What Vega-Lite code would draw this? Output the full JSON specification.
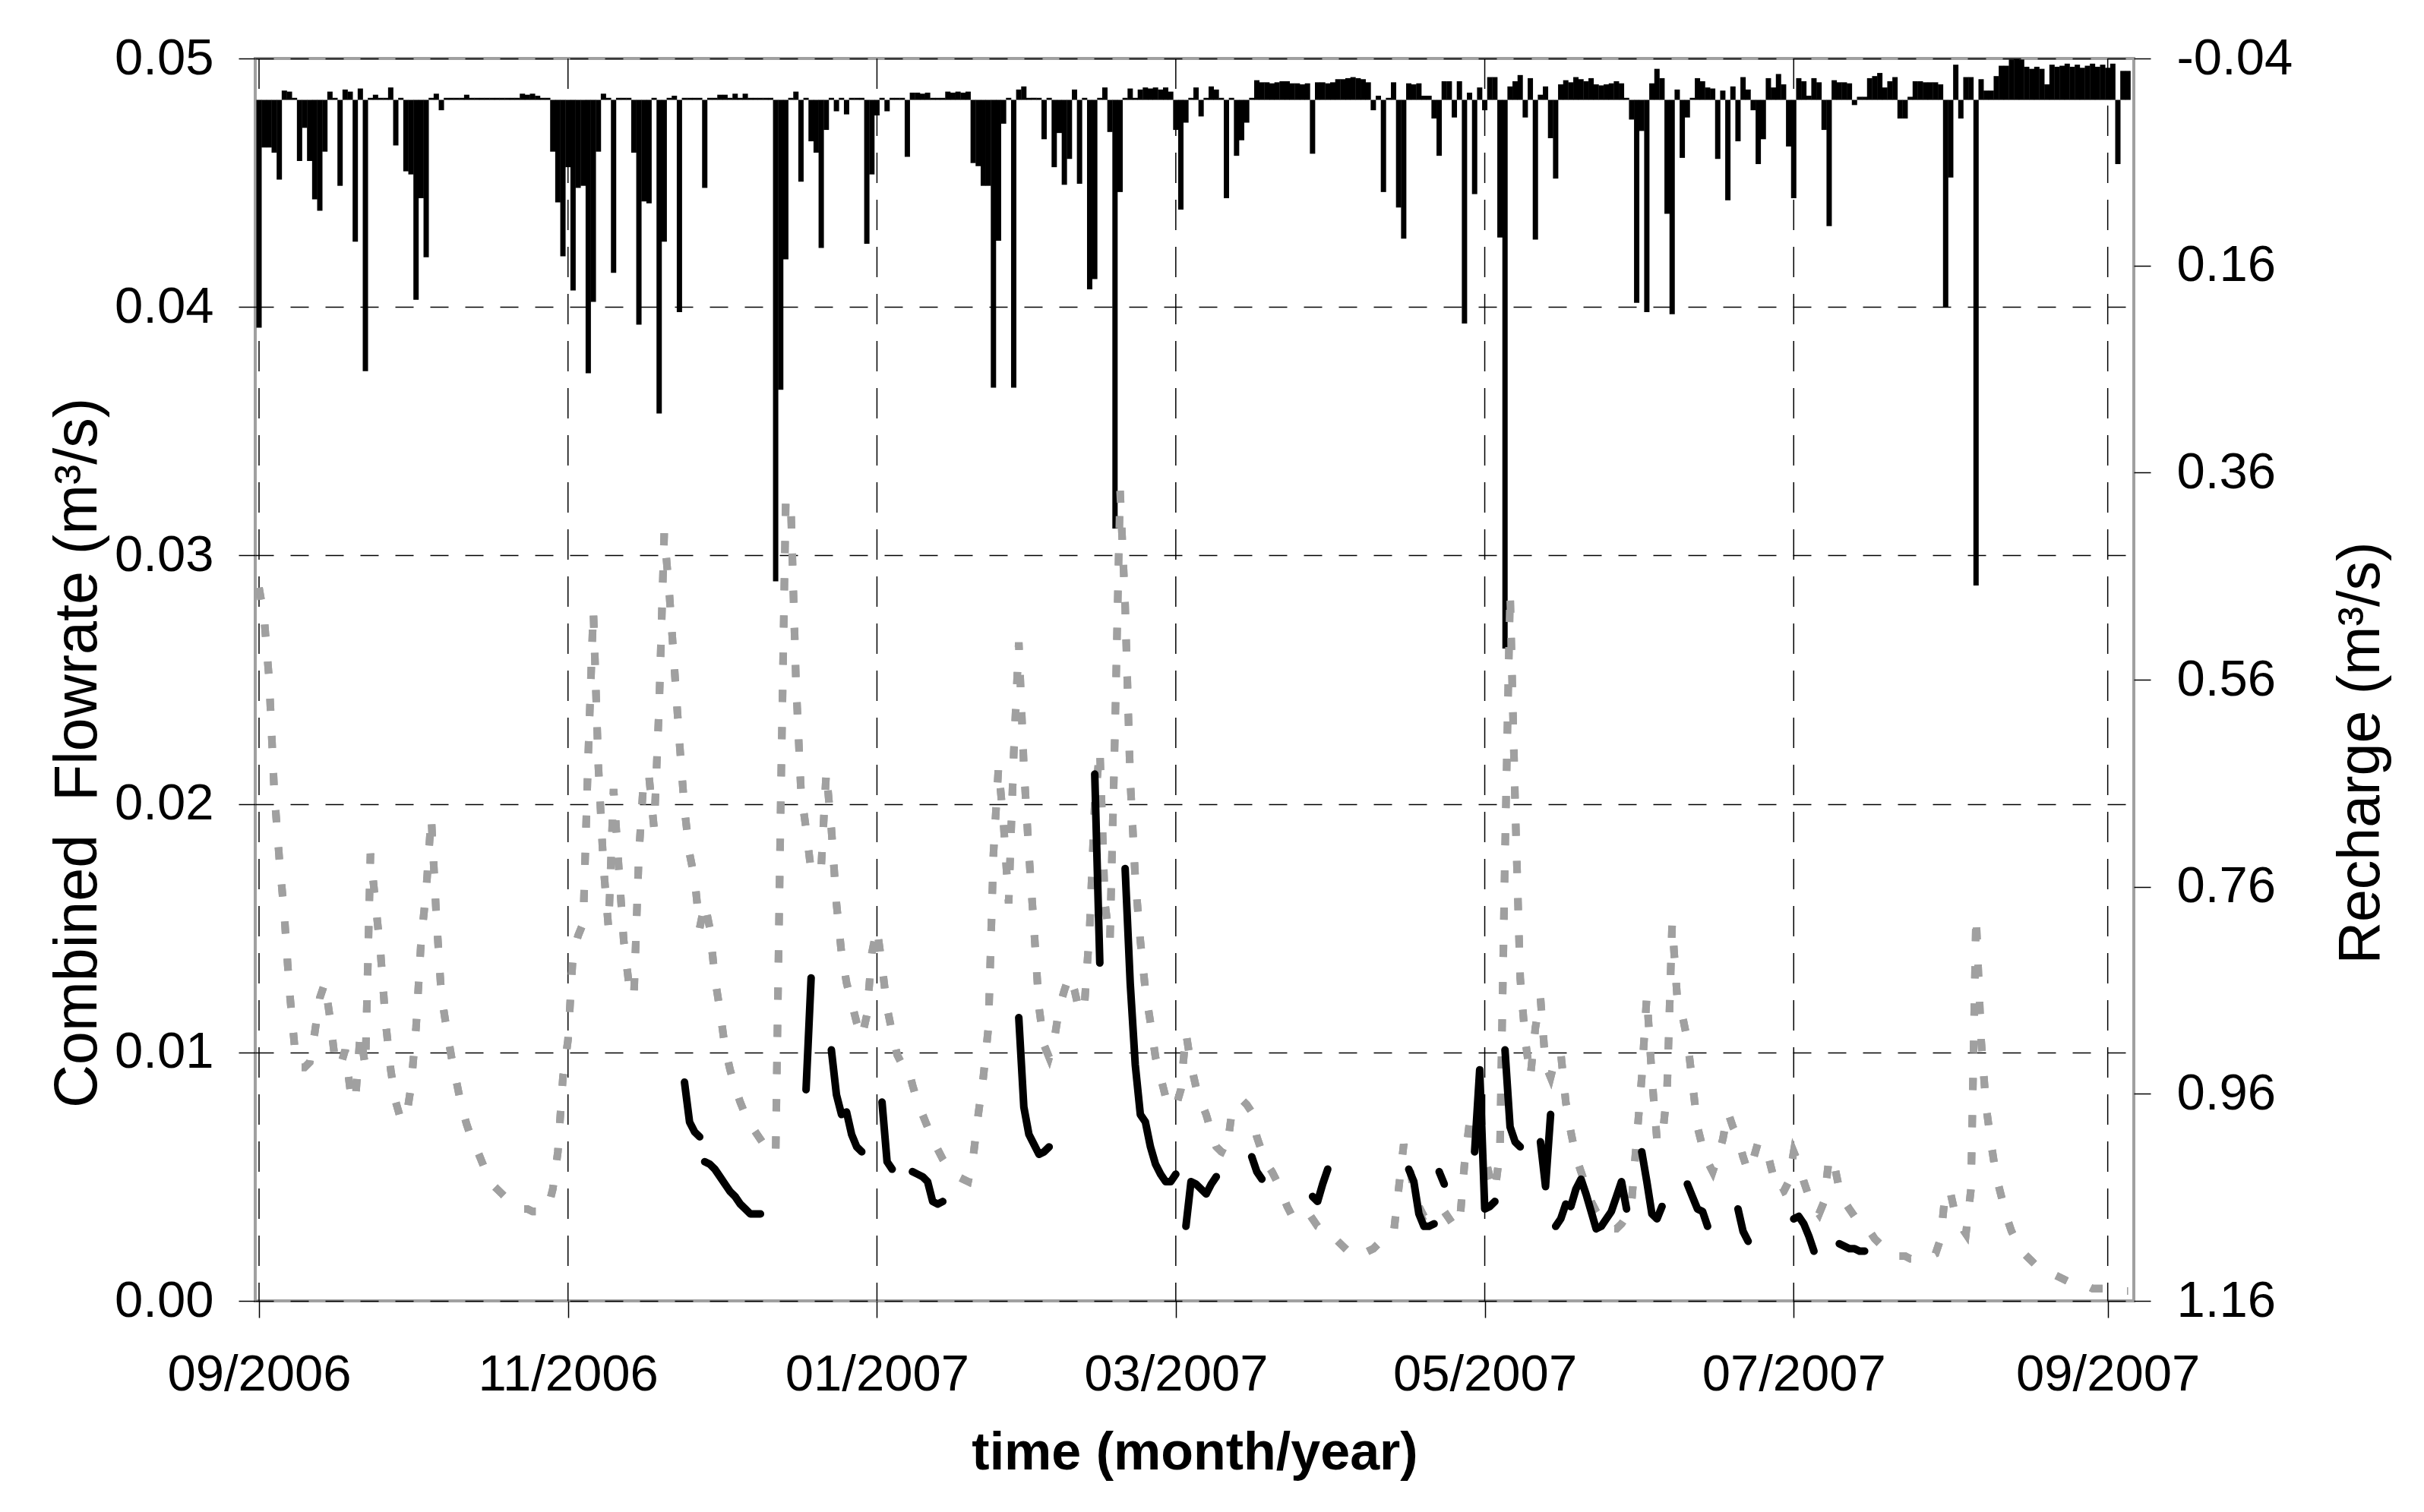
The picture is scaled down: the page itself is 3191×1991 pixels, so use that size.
{
"$schema":"https://vega.github.io/schema/vega-lite/v6.json",
"width":2473,"height":1636,"autosize":"none",
"padding":{"left":336,"top":77,"right":382,"bottom":278},
"background":"white",
"config":{"font":"Liberation Sans","view":{"stroke":"#a0a0a0","strokeWidth":4},
"axis":{"labelFont":"Liberation Sans","titleFont":"Liberation Sans","labelColor":"black","titleColor":"black","tickColor":"black","tickWidth":1.5,"domain":false,"labelLimit":1000,"titleLimit":3000,"labelFontSize":67,"titleFontWeight":"normal"}},
"datasets":{
"months":[{"t":"2006-09-01"},{"t":"2006-11-01"},{"t":"2007-01-01"},{"t":"2007-03-01"},{"t":"2007-05-01"},{"t":"2007-07-01"},{"t":"2007-09-01"}],
"daily":[
{"t":"2006-09-01","r":0.22,"s":0.0287},{"t":"2006-09-02","r":0.046,"s":0.0275},{"t":"2006-09-03","r":0.046,"s":0.025},{"t":"2006-09-04","r":0.051,"s":0.0205},{"t":"2006-09-05","r":0.077,"s":0.0178},{"t":"2006-09-06","r":-0.009,"s":0.0155},{"t":"2006-09-07","r":-0.008,"s":0.0125},{"t":"2006-09-08","r":-0.002,"s":0.0103},{"t":"2006-09-09","r":0.059,"s":0.0094},{"t":"2006-09-10","r":0.027,"s":0.0094},
{"t":"2006-09-11","r":0.059,"s":0.0096},{"t":"2006-09-12","r":0.096,"s":0.0108},{"t":"2006-09-13","r":0.107,"s":0.0122},{"t":"2006-09-14","r":0.05,"s":0.0128},{"t":"2006-09-15","r":-0.008,"s":0.0114},{"t":"2006-09-16","r":-0.002,"s":0.0097},{"t":"2006-09-17","r":0.083,"s":0.0094},{"t":"2006-09-18","r":-0.01,"s":0.0101},{"t":"2006-09-19","r":-0.008,"s":0.0085},{"t":"2006-09-20","r":0.137,"s":0.008},
{"t":"2006-09-21","r":-0.011,"s":0.0108},{"t":"2006-09-22","r":0.262,"s":0.0094},{"t":"2006-09-23","r":-0.002,"s":0.018},{"t":"2006-09-24","r":-0.005,"s":0.016},{"t":"2006-09-25","r":-0.002,"s":0.014},{"t":"2006-09-26","r":-0.002,"s":0.0112},{"t":"2006-09-27","r":-0.012,"s":0.0093},{"t":"2006-09-28","r":0.044,"s":0.008},{"t":"2006-09-29","r":-0.002,"s":0.0073},{"t":"2006-09-30","r":0.069,"s":0.0073},
{"t":"2006-10-01","r":0.072,"s":0.0086},{"t":"2006-10-02","r":0.193,"s":0.011},{"t":"2006-10-03","r":0.095,"s":0.0145},{"t":"2006-10-04","r":0.152,"s":0.0165},{"t":"2006-10-05","r":-0.002,"s":0.0195},{"t":"2006-10-06","r":-0.006,"s":0.0155},{"t":"2006-10-07","r":0.01,"s":0.0123},{"t":"2006-10-08","r":-0.002,"s":0.011},{"t":"2006-10-09","r":-0.002,"s":0.0098},{"t":"2006-10-10","r":-0.002,"s":0.0088},
{"t":"2006-10-11","r":-0.002,"s":0.0078},{"t":"2006-10-12","r":-0.005,"s":0.0071},{"t":"2006-10-13","r":-0.002,"s":0.0065},{"t":"2006-10-14","r":-0.002,"s":0.0061},{"t":"2006-10-15","r":-0.002,"s":0.0056},{"t":"2006-10-16","r":-0.002,"s":0.0051},{"t":"2006-10-17","r":-0.002,"s":0.0047},{"t":"2006-10-18","r":-0.002,"s":0.0045},{"t":"2006-10-19","r":-0.002,"s":0.0043},{"t":"2006-10-20","r":-0.002,"s":0.0041},
{"t":"2006-10-21","r":-0.002,"s":0.0039},{"t":"2006-10-22","r":-0.002,"s":0.0038},{"t":"2006-10-23","r":-0.006,"s":0.0037},{"t":"2006-10-24","r":-0.005,"s":0.0037},{"t":"2006-10-25","r":-0.006,"s":0.0036},{"t":"2006-10-26","r":-0.004,"s":0.0036},{"t":"2006-10-27","r":-0.002,"s":0.0036},{"t":"2006-10-28","r":-0.002,"s":0.0037},{"t":"2006-10-29","r":0.05,"s":0.0045},{"t":"2006-10-30","r":0.099,"s":0.006},
{"t":"2006-10-31","r":0.151,"s":0.009},{"t":"2006-11-01","r":0.065,"s":0.0105},{"t":"2006-11-02","r":0.184,"s":0.014},{"t":"2006-11-03","r":0.085,"s":0.0147},{"t":"2006-11-04","r":0.083,"s":0.0152},{"t":"2006-11-05","r":0.264,"s":0.022},{"t":"2006-11-06","r":0.195,"s":0.0278},{"t":"2006-11-07","r":0.05,"s":0.0215},{"t":"2006-11-08","r":-0.006,"s":0.0175},{"t":"2006-11-09","r":-0.002,"s":0.015},
{"t":"2006-11-10","r":0.167,"s":0.0206},{"t":"2006-11-11","r":-0.002,"s":0.0175},{"t":"2006-11-12","r":-0.002,"s":0.0145},{"t":"2006-11-13","r":-0.002,"s":0.0128},{"t":"2006-11-14","r":0.051,"s":0.0122},{"t":"2006-11-15","r":0.217,"s":0.018},{"t":"2006-11-16","r":0.098,"s":0.0212},{"t":"2006-11-17","r":0.1,"s":0.0211},{"t":"2006-11-18","r":-0.002,"s":0.019},{"t":"2006-11-19","r":0.303,"s":0.024},
{"t":"2006-11-20","r":0.137,"s":0.0309},{"t":"2006-11-21","r":-0.002,"s":0.0285},{"t":"2006-11-22","r":-0.004,"s":0.0255},{"t":"2006-11-23","r":0.205,"s":0.0225},{"t":"2006-11-24","r":-0.002,"s":0.0198},{"t":"2006-11-25","r":-0.002,"s":0.018},{"t":"2006-11-26","r":-0.002,"s":0.017},{"t":"2006-11-27","r":-0.002,"s":0.015},{"t":"2006-11-28","r":0.085,"s":0.016},{"t":"2006-11-29","r":-0.002,"s":0.015},
{"t":"2006-11-30","r":-0.002,"s":0.013},{"t":"2006-12-01","r":-0.005,"s":0.0117},{"t":"2006-12-02","r":-0.005,"s":0.0102},{"t":"2006-12-03","r":-0.002,"s":0.0093},{"t":"2006-12-04","r":-0.006,"s":0.0086},{"t":"2006-12-05","r":-0.002,"s":0.008},{"t":"2006-12-06","r":-0.006,"s":0.0075},{"t":"2006-12-07","r":-0.002,"s":0.0071},{"t":"2006-12-08","r":-0.002,"s":0.0068},{"t":"2006-12-09","r":-0.002,"s":0.0065},
{"t":"2006-12-10","r":-0.002,"s":0.0062},{"t":"2006-12-11","r":-0.002,"s":0.006},{"t":"2006-12-12","r":0.465,"s":0.0059},{"t":"2006-12-13","r":0.28,"s":0.02},{"t":"2006-12-14","r":0.154,"s":0.0323},{"t":"2006-12-15","r":-0.002,"s":0.032},{"t":"2006-12-16","r":-0.008,"s":0.025},{"t":"2006-12-17","r":0.079,"s":0.0205},{"t":"2006-12-18","r":-0.002,"s":0.019},{"t":"2006-12-19","r":0.04,"s":0.0173},
{"t":"2006-12-20","r":0.051,"s":0.0172},{"t":"2006-12-21","r":0.143,"s":0.0175},{"t":"2006-12-22","r":0.029,"s":0.0213},{"t":"2006-12-23","r":-0.002,"s":0.019},{"t":"2006-12-24","r":0.011,"s":0.016},{"t":"2006-12-25","r":-0.002,"s":0.014},{"t":"2006-12-26","r":0.014,"s":0.0128},{"t":"2006-12-27","r":-0.002,"s":0.012},{"t":"2006-12-28","r":-0.002,"s":0.0112},{"t":"2006-12-29","r":-0.002,"s":0.0106},
{"t":"2006-12-30","r":0.139,"s":0.0115},{"t":"2006-12-31","r":0.072,"s":0.014},{"t":"2007-01-01","r":0.015,"s":0.015},{"t":"2007-01-02","r":-0.002,"s":0.0135},{"t":"2007-01-03","r":0.011,"s":0.0118},{"t":"2007-01-04","r":-0.002,"s":0.0108},{"t":"2007-01-05","r":-0.002,"s":0.0099},{"t":"2007-01-06","r":-0.002,"s":0.0095},{"t":"2007-01-07","r":0.055,"s":0.0095},{"t":"2007-01-08","r":-0.007,"s":0.0087},
{"t":"2007-01-09","r":-0.007,"s":0.008},{"t":"2007-01-10","r":-0.006,"s":0.0075},{"t":"2007-01-11","r":-0.007,"s":0.007},{"t":"2007-01-12","r":-0.002,"s":0.0065},{"t":"2007-01-13","r":-0.002,"s":0.0061},{"t":"2007-01-14","r":-0.002,"s":0.0057},{"t":"2007-01-15","r":-0.008,"s":0.0054},{"t":"2007-01-16","r":-0.007,"s":0.0052},{"t":"2007-01-17","r":-0.008,"s":0.005},{"t":"2007-01-18","r":-0.007,"s":0.0049},
{"t":"2007-01-19","r":-0.008,"s":0.0048},{"t":"2007-01-20","r":0.061,"s":0.0058},{"t":"2007-01-21","r":0.064,"s":0.0075},{"t":"2007-01-22","r":0.083,"s":0.009},{"t":"2007-01-23","r":0.083,"s":0.011},{"t":"2007-01-24","r":0.278,"s":0.018},{"t":"2007-01-25","r":0.136,"s":0.0215},{"t":"2007-01-26","r":0.023,"s":0.0192},{"t":"2007-01-27","r":-0.002,"s":0.016},{"t":"2007-01-28","r":0.278,"s":0.022},
{"t":"2007-01-29","r":-0.01,"s":0.0265},{"t":"2007-01-30","r":-0.013,"s":0.0215},{"t":"2007-01-31","r":-0.002,"s":0.018},{"t":"2007-02-01","r":-0.002,"s":0.015},{"t":"2007-02-02","r":-0.002,"s":0.0118},{"t":"2007-02-03","r":0.038,"s":0.0103},{"t":"2007-02-04","r":-0.002,"s":0.0098},{"t":"2007-02-05","r":0.065,"s":0.0105},{"t":"2007-02-06","r":0.032,"s":0.0118},{"t":"2007-02-07","r":0.082,"s":0.0125},
{"t":"2007-02-08","r":0.057,"s":0.0131},{"t":"2007-02-09","r":-0.01,"s":0.0125},{"t":"2007-02-10","r":0.081,"s":0.0116},{"t":"2007-02-11","r":-0.002,"s":0.012},{"t":"2007-02-12","r":0.183,"s":0.015},{"t":"2007-02-13","r":0.173,"s":0.02},{"t":"2007-02-14","r":-0.002,"s":0.0222},{"t":"2007-02-15","r":-0.012,"s":0.016},{"t":"2007-02-16","r":0.031,"s":0.0145},{"t":"2007-02-17","r":0.414,"s":0.023},
{"t":"2007-02-18","r":0.089,"s":0.0326},{"t":"2007-02-19","r":-0.002,"s":0.028},{"t":"2007-02-20","r":-0.011,"s":0.021},{"t":"2007-02-21","r":-0.002,"s":0.017},{"t":"2007-02-22","r":-0.01,"s":0.0145},{"t":"2007-02-23","r":-0.012,"s":0.0125},{"t":"2007-02-24","r":-0.011,"s":0.0112},{"t":"2007-02-25","r":-0.012,"s":0.0098},{"t":"2007-02-26","r":-0.01,"s":0.009},{"t":"2007-02-27","r":-0.012,"s":0.0082},
{"t":"2007-02-28","r":-0.008,"s":0.0078},{"t":"2007-03-01","r":0.029,"s":0.0078},{"t":"2007-03-02","r":0.106,"s":0.0085},{"t":"2007-03-03","r":0.022,"s":0.0108},{"t":"2007-03-04","r":-0.002,"s":0.0095},{"t":"2007-03-05","r":-0.012,"s":0.0086},{"t":"2007-03-06","r":0.016,"s":0.008},{"t":"2007-03-07","r":-0.002,"s":0.0075},{"t":"2007-03-08","r":-0.013,"s":0.0068},{"t":"2007-03-09","r":-0.01,"s":0.0062},
{"t":"2007-03-10","r":-0.002,"s":0.006},{"t":"2007-03-11","r":0.095,"s":0.0059},{"t":"2007-03-12","r":-0.002,"s":0.0075},{"t":"2007-03-13","r":0.054,"s":0.0079},{"t":"2007-03-14","r":0.039,"s":0.0081},{"t":"2007-03-15","r":0.022,"s":0.0079},{"t":"2007-03-16","r":-0.002,"s":0.0076},{"t":"2007-03-17","r":-0.019,"s":0.0066},{"t":"2007-03-18","r":-0.017,"s":0.006},{"t":"2007-03-19","r":-0.017,"s":0.0055},
{"t":"2007-03-20","r":-0.016,"s":0.0052},{"t":"2007-03-21","r":-0.017,"s":0.0048},{"t":"2007-03-22","r":-0.018,"s":0.0043},{"t":"2007-03-23","r":-0.018,"s":0.0038},{"t":"2007-03-24","r":-0.016,"s":0.0034},{"t":"2007-03-25","r":-0.016,"s":0.0034},{"t":"2007-03-26","r":-0.015,"s":0.0035},{"t":"2007-03-27","r":-0.016,"s":0.0036},{"t":"2007-03-28","r":0.052,"s":0.0033},{"t":"2007-03-29","r":-0.017,"s":0.003},
{"t":"2007-03-30","r":-0.017,"s":0.0029},{"t":"2007-03-31","r":-0.016,"s":0.0028},{"t":"2007-04-01","r":-0.017,"s":0.0026},{"t":"2007-04-02","r":-0.02,"s":0.0024},{"t":"2007-04-03","r":-0.02,"s":0.0022},{"t":"2007-04-04","r":-0.021,"s":0.002},{"t":"2007-04-05","r":-0.022,"s":0.0018},{"t":"2007-04-06","r":-0.021,"s":0.0018},{"t":"2007-04-07","r":-0.02,"s":0.0019},{"t":"2007-04-08","r":-0.017,"s":0.002},
{"t":"2007-04-09","r":0.01,"s":0.0021},{"t":"2007-04-10","r":-0.004,"s":0.0023},{"t":"2007-04-11","r":0.089,"s":0.0024},{"t":"2007-04-12","r":-0.002,"s":0.0025},{"t":"2007-04-13","r":-0.017,"s":0.0027},{"t":"2007-04-14","r":0.104,"s":0.0045},{"t":"2007-04-15","r":0.134,"s":0.0063},{"t":"2007-04-16","r":-0.016,"s":0.0055},{"t":"2007-04-17","r":-0.015,"s":0.0045},{"t":"2007-04-18","r":-0.016,"s":0.0038},
{"t":"2007-04-19","r":-0.004,"s":0.0034},{"t":"2007-04-20","r":-0.004,"s":0.0035},{"t":"2007-04-21","r":0.018,"s":0.0037},{"t":"2007-04-22","r":0.054,"s":0.0038},{"t":"2007-04-23","r":-0.018,"s":0.0036},{"t":"2007-04-24","r":-0.018,"s":0.0033},{"t":"2007-04-25","r":0.017,"s":0.003},{"t":"2007-04-26","r":-0.018,"s":0.003},{"t":"2007-04-27","r":0.216,"s":0.0055},{"t":"2007-04-28","r":-0.007,"s":0.0072},
{"t":"2007-04-29","r":0.091,"s":0.0074},{"t":"2007-04-30","r":-0.012,"s":0.0065},{"t":"2007-05-01","r":0.01,"s":0.0058},{"t":"2007-05-02","r":-0.022,"s":0.005},{"t":"2007-05-03","r":-0.022,"s":0.0044},{"t":"2007-05-04","r":0.133,"s":0.006},{"t":"2007-05-05","r":0.53,"s":0.018},{"t":"2007-05-06","r":-0.013,"s":0.0285},{"t":"2007-05-07","r":-0.018,"s":0.02},{"t":"2007-05-08","r":-0.024,"s":0.013},
{"t":"2007-05-09","r":0.017,"s":0.0105},{"t":"2007-05-10","r":-0.021,"s":0.009},{"t":"2007-05-11","r":0.135,"s":0.011},{"t":"2007-05-12","r":-0.005,"s":0.0122},{"t":"2007-05-13","r":-0.013,"s":0.0095},{"t":"2007-05-14","r":0.037,"s":0.009},{"t":"2007-05-15","r":0.076,"s":0.0098},{"t":"2007-05-16","r":-0.015,"s":0.01},{"t":"2007-05-17","r":-0.019,"s":0.008},{"t":"2007-05-18","r":-0.017,"s":0.0068},
{"t":"2007-05-19","r":-0.022,"s":0.0058},{"t":"2007-05-20","r":-0.02,"s":0.0052},{"t":"2007-05-21","r":-0.018,"s":0.0046},{"t":"2007-05-22","r":-0.021,"s":0.004},{"t":"2007-05-23","r":-0.015,"s":0.0036},{"t":"2007-05-24","r":-0.014,"s":0.0033},{"t":"2007-05-25","r":-0.015,"s":0.0031},{"t":"2007-05-26","r":-0.016,"s":0.0029},{"t":"2007-05-27","r":-0.018,"s":0.0029},{"t":"2007-05-28","r":-0.016,"s":0.0031},
{"t":"2007-05-29","r":-0.002,"s":0.0034},{"t":"2007-05-30","r":0.019,"s":0.004},{"t":"2007-05-31","r":0.196,"s":0.0065},{"t":"2007-06-01","r":0.03,"s":0.009},{"t":"2007-06-02","r":0.205,"s":0.0123},{"t":"2007-06-03","r":-0.016,"s":0.009},{"t":"2007-06-04","r":-0.03,"s":0.0065},{"t":"2007-06-05","r":-0.021,"s":0.0064},{"t":"2007-06-06","r":0.11,"s":0.0085},{"t":"2007-06-07","r":0.207,"s":0.0152},
{"t":"2007-06-08","r":-0.01,"s":0.0122},{"t":"2007-06-09","r":0.056,"s":0.0115},{"t":"2007-06-10","r":0.017,"s":0.0105},{"t":"2007-06-11","r":-0.002,"s":0.0088},{"t":"2007-06-12","r":-0.021,"s":0.007},{"t":"2007-06-13","r":-0.018,"s":0.0062},{"t":"2007-06-14","r":-0.012,"s":0.0056},{"t":"2007-06-15","r":-0.011,"s":0.0052},{"t":"2007-06-16","r":0.057,"s":0.0058},{"t":"2007-06-17","r":-0.009,"s":0.0065},
{"t":"2007-06-18","r":0.097,"s":0.0076},{"t":"2007-06-19","r":-0.013,"s":0.007},{"t":"2007-06-20","r":0.04,"s":0.0066},{"t":"2007-06-21","r":-0.022,"s":0.0058},{"t":"2007-06-22","r":-0.01,"s":0.0052},{"t":"2007-06-23","r":0.01,"s":0.0057},{"t":"2007-06-24","r":0.062,"s":0.0064},{"t":"2007-06-25","r":0.038,"s":0.0062},{"t":"2007-06-26","r":-0.021,"s":0.0058},{"t":"2007-06-27","r":-0.012,"s":0.005},
{"t":"2007-06-28","r":-0.025,"s":0.0043},{"t":"2007-06-29","r":-0.015,"s":0.0044},{"t":"2007-06-30","r":0.045,"s":0.0048},{"t":"2007-07-01","r":0.095,"s":0.006},{"t":"2007-07-02","r":-0.021,"s":0.0055},{"t":"2007-07-03","r":-0.018,"s":0.0048},{"t":"2007-07-04","r":-0.004,"s":0.0042},{"t":"2007-07-05","r":-0.021,"s":0.0038},{"t":"2007-07-06","r":-0.017,"s":0.0035},{"t":"2007-07-07","r":0.029,"s":0.004},
{"t":"2007-07-08","r":0.122,"s":0.0058},{"t":"2007-07-09","r":-0.019,"s":0.0055},{"t":"2007-07-10","r":-0.017,"s":0.0045},{"t":"2007-07-11","r":-0.017,"s":0.004},{"t":"2007-07-12","r":-0.016,"s":0.0037},{"t":"2007-07-13","r":0.005,"s":0.0034},{"t":"2007-07-14","r":-0.003,"s":0.0032},{"t":"2007-07-15","r":-0.003,"s":0.003},{"t":"2007-07-16","r":-0.021,"s":0.0028},{"t":"2007-07-17","r":-0.023,"s":0.0025},
{"t":"2007-07-18","r":-0.026,"s":0.0023},{"t":"2007-07-19","r":-0.012,"s":0.0021},{"t":"2007-07-20","r":-0.018,"s":0.0019},{"t":"2007-07-21","r":-0.022,"s":0.0018},{"t":"2007-07-22","r":0.018,"s":0.0018},{"t":"2007-07-23","r":0.018,"s":0.0018},{"t":"2007-07-24","r":-0.003,"s":0.0017},{"t":"2007-07-25","r":-0.018,"s":0.0017},{"t":"2007-07-26","r":-0.018,"s":0.0017},{"t":"2007-07-27","r":-0.017,"s":0.0018},
{"t":"2007-07-28","r":-0.017,"s":0.0018},{"t":"2007-07-29","r":-0.017,"s":0.0019},{"t":"2007-07-30","r":-0.015,"s":0.0025},{"t":"2007-07-31","r":0.2,"s":0.0045},{"t":"2007-08-01","r":0.075,"s":0.0043},{"t":"2007-08-02","r":-0.034,"s":0.0034},{"t":"2007-08-03","r":0.018,"s":0.003},{"t":"2007-08-04","r":-0.022,"s":0.0027},{"t":"2007-08-05","r":-0.022,"s":0.0045},{"t":"2007-08-06","r":0.469,"s":0.0155},
{"t":"2007-08-07","r":-0.02,"s":0.0105},{"t":"2007-08-08","r":-0.009,"s":0.0078},{"t":"2007-08-09","r":-0.009,"s":0.0063},{"t":"2007-08-10","r":-0.023,"s":0.005},{"t":"2007-08-11","r":-0.033,"s":0.0042},{"t":"2007-08-12","r":-0.033,"s":0.0034},{"t":"2007-08-13","r":-0.039,"s":0.0028},{"t":"2007-08-14","r":-0.04,"s":0.0024},{"t":"2007-08-15","r":-0.039,"s":0.002},{"t":"2007-08-16","r":-0.032,"s":0.0018},
{"t":"2007-08-17","r":-0.03,"s":0.0016},{"t":"2007-08-18","r":-0.032,"s":0.0014},{"t":"2007-08-19","r":-0.03,"s":0.0013},{"t":"2007-08-20","r":-0.015,"s":0.0012},{"t":"2007-08-21","r":-0.034,"s":0.0011},{"t":"2007-08-22","r":-0.032,"s":0.001},{"t":"2007-08-23","r":-0.033,"s":0.0009},{"t":"2007-08-24","r":-0.035,"s":0.0008},{"t":"2007-08-25","r":-0.032,"s":0.0008},{"t":"2007-08-26","r":-0.034,"s":0.0007},
{"t":"2007-08-27","r":-0.031,"s":0.0006},{"t":"2007-08-28","r":-0.033,"s":0.0006},{"t":"2007-08-29","r":-0.035,"s":0.0005},{"t":"2007-08-30","r":-0.032,"s":0.0005},{"t":"2007-08-31","r":-0.034,"s":0.0005},{"t":"2007-09-01","r":-0.031,"s":0.0004},{"t":"2007-09-02","r":-0.035,"s":0.0004},{"t":"2007-09-03","r":0.062,"s":0.0004},{"t":"2007-09-04","r":-0.028,"s":0.0004},{"t":"2007-09-05","r":-0.028,"s":0.0004}
],
"obs":[
{"g":"A","t":"2006-11-24","q":0.0088},{"g":"A","t":"2006-11-25","q":0.0072},{"g":"A","t":"2006-11-26","q":0.0068},{"g":"A","t":"2006-11-27","q":0.0066},
{"g":"B","t":"2006-11-28","q":0.0056},{"g":"B","t":"2006-11-29","q":0.0055},{"g":"B","t":"2006-11-30","q":0.0053},{"g":"B","t":"2006-12-01","q":0.005},{"g":"B","t":"2006-12-02","q":0.0047},{"g":"B","t":"2006-12-03","q":0.0044},{"g":"B","t":"2006-12-04","q":0.0042},{"g":"B","t":"2006-12-05","q":0.0039},{"g":"B","t":"2006-12-06","q":0.0037},{"g":"B","t":"2006-12-07","q":0.0035},{"g":"B","t":"2006-12-08","q":0.0035},{"g":"B","t":"2006-12-09","q":0.0035},
{"g":"C","t":"2006-12-18","q":0.0085},{"g":"C","t":"2006-12-19","q":0.013},
{"g":"D","t":"2006-12-23","q":0.0101},{"g":"D","t":"2006-12-24","q":0.0083},{"g":"D","t":"2006-12-25","q":0.0075},{"g":"D","t":"2006-12-26","q":0.0076},{"g":"D","t":"2006-12-27","q":0.0067},{"g":"D","t":"2006-12-28","q":0.0062},{"g":"D","t":"2006-12-29","q":0.006},
{"g":"E","t":"2007-01-02","q":0.008},{"g":"E","t":"2007-01-03","q":0.0056},{"g":"E","t":"2007-01-04","q":0.0053},
{"g":"F","t":"2007-01-08","q":0.0052},{"g":"F","t":"2007-01-09","q":0.0051},{"g":"F","t":"2007-01-10","q":0.005},{"g":"F","t":"2007-01-11","q":0.0048},{"g":"F","t":"2007-01-12","q":0.004},{"g":"F","t":"2007-01-13","q":0.0039},{"g":"F","t":"2007-01-14","q":0.004},
{"g":"G","t":"2007-01-29","q":0.0114},{"g":"G","t":"2007-01-30","q":0.0078},{"g":"G","t":"2007-01-31","q":0.0067},{"g":"G","t":"2007-02-01","q":0.0063},{"g":"G","t":"2007-02-02","q":0.0059},{"g":"G","t":"2007-02-03","q":0.006},{"g":"G","t":"2007-02-04","q":0.0062},
{"g":"H","t":"2007-02-13","q":0.0212},{"g":"H","t":"2007-02-14","q":0.0136},
{"g":"I","t":"2007-02-19","q":0.0174},{"g":"I","t":"2007-02-20","q":0.0128},{"g":"I","t":"2007-02-21","q":0.0095},{"g":"I","t":"2007-02-22","q":0.0075},{"g":"I","t":"2007-02-23","q":0.0072},{"g":"I","t":"2007-02-24","q":0.0062},{"g":"I","t":"2007-02-25","q":0.0055},{"g":"I","t":"2007-02-26","q":0.0051},{"g":"I","t":"2007-02-27","q":0.0048},{"g":"I","t":"2007-02-28","q":0.0048},{"g":"I","t":"2007-03-01","q":0.0051},
{"g":"J","t":"2007-03-03","q":0.003},{"g":"J","t":"2007-03-04","q":0.0048},{"g":"J","t":"2007-03-05","q":0.0047},{"g":"J","t":"2007-03-06","q":0.0045},{"g":"J","t":"2007-03-07","q":0.0043},{"g":"J","t":"2007-03-08","q":0.0047},{"g":"J","t":"2007-03-09","q":0.005},
{"g":"K","t":"2007-03-16","q":0.0058},{"g":"K","t":"2007-03-17","q":0.0052},{"g":"K","t":"2007-03-18","q":0.0049},
{"g":"L","t":"2007-03-28","q":0.0042},{"g":"L","t":"2007-03-29","q":0.004},{"g":"L","t":"2007-03-30","q":0.0047},{"g":"L","t":"2007-03-31","q":0.0053},
{"g":"M","t":"2007-04-16","q":0.0053},{"g":"M","t":"2007-04-17","q":0.0048},{"g":"M","t":"2007-04-18","q":0.0035},{"g":"M","t":"2007-04-19","q":0.003},{"g":"M","t":"2007-04-20","q":0.003},{"g":"M","t":"2007-04-21","q":0.0031},
{"g":"N","t":"2007-04-22","q":0.0052},{"g":"N","t":"2007-04-23","q":0.0047},
{"g":"O","t":"2007-04-29","q":0.006},{"g":"O","t":"2007-04-30","q":0.0093},{"g":"O","t":"2007-05-01","q":0.0037},{"g":"O","t":"2007-05-02","q":0.0038},{"g":"O","t":"2007-05-03","q":0.004},
{"g":"P","t":"2007-05-05","q":0.0101},{"g":"P","t":"2007-05-06","q":0.007},{"g":"P","t":"2007-05-07","q":0.0064},{"g":"P","t":"2007-05-08","q":0.0062},
{"g":"Q","t":"2007-05-12","q":0.0064},{"g":"Q","t":"2007-05-13","q":0.0046},{"g":"Q","t":"2007-05-14","q":0.0075},
{"g":"R","t":"2007-05-15","q":0.003},{"g":"R","t":"2007-05-16","q":0.0033},{"g":"R","t":"2007-05-17","q":0.0039},{"g":"R","t":"2007-05-18","q":0.0038},{"g":"R","t":"2007-05-19","q":0.0045},{"g":"R","t":"2007-05-20","q":0.0049},{"g":"R","t":"2007-05-21","q":0.0043},{"g":"R","t":"2007-05-22","q":0.0036},{"g":"R","t":"2007-05-23","q":0.0029},{"g":"R","t":"2007-05-24","q":0.003},{"g":"R","t":"2007-05-25","q":0.0033},{"g":"R","t":"2007-05-26","q":0.0036},{"g":"R","t":"2007-05-27","q":0.0042},{"g":"R","t":"2007-05-28","q":0.0048},{"g":"R","t":"2007-05-29","q":0.0037},
{"g":"S","t":"2007-06-01","q":0.006},{"g":"S","t":"2007-06-02","q":0.0048},{"g":"S","t":"2007-06-03","q":0.0035},{"g":"S","t":"2007-06-04","q":0.0033},{"g":"S","t":"2007-06-05","q":0.0038},
{"g":"T","t":"2007-06-10","q":0.0047},{"g":"T","t":"2007-06-11","q":0.0042},{"g":"T","t":"2007-06-12","q":0.0037},{"g":"T","t":"2007-06-13","q":0.0036},{"g":"T","t":"2007-06-14","q":0.003},
{"g":"U","t":"2007-06-20","q":0.0037},{"g":"U","t":"2007-06-21","q":0.0028},{"g":"U","t":"2007-06-22","q":0.0024},
{"g":"V","t":"2007-07-01","q":0.0033},{"g":"V","t":"2007-07-02","q":0.0034},{"g":"V","t":"2007-07-03","q":0.0031},{"g":"V","t":"2007-07-04","q":0.0026},{"g":"V","t":"2007-07-05","q":0.002},
{"g":"W","t":"2007-07-10","q":0.0023},{"g":"W","t":"2007-07-11","q":0.0022},{"g":"W","t":"2007-07-12","q":0.0021},{"g":"W","t":"2007-07-13","q":0.0021},{"g":"W","t":"2007-07-14","q":0.002},{"g":"W","t":"2007-07-15","q":0.002}
]},
"encoding":{
 "x":{"field":"t","type":"temporal",
  "scale":{"type":"utc","domain":[1157068800000,1188985000000]},
  "axis":{"values":[1157068800000,1162339200000,1167609600000,1172707200000,1177977600000,1183248000000,1188604800000],
   "labelExpr":"utcFormat(datum.value, '%m/%Y')","labelFlush":false,"labelOverlap":false,"tickSize":22,"labelPadding":42,"grid":false,
   "title":"time (month/year)","titleFontSize":70,"titleFontWeight":"bold","titleY":200,"titleBaseline":"middle"}}},
"layer":[
{"data":{"name":"months"},
 "mark":{"type":"rule","color":"black","strokeWidth":1.5,"strokeDash":[40,22]}},
{"data":{"name":"daily"},
 "mark":{"type":"line","color":"#a0a0a0","strokeWidth":10,"strokeDash":[16,33],"strokeCap":"butt","clip":true},
 "encoding":{
  "y":{"field":"s","type":"quantitative","scale":{"domain":[0,0.05],"nice":false},
   "axis":{"orient":"left","values":[0,0.01,0.02,0.03,0.04,0.05],"format":".2f","tickSize":22,"labelPadding":33,
    "grid":true,"gridColor":"black","gridDash":[24,22],"gridWidth":1.5,
    "title":"Combined\u00a0 Flowrate (m³/s)","titleFontSize":79,"titleAngle":270,"titleX":-234,"titleY":914,"titleAlign":"center","titleBaseline":"middle"}}}},
{"data":{"name":"daily"},
 "mark":{"type":"bar","color":"black","clip":true,"width":7},
 "encoding":{
  "y":{"field":"r","type":"quantitative",
   "scale":{"domain":[-0.04,1.16],"reverse":true,"nice":false,"zero":false},
   "axis":{"orient":"right","values":[-0.04,0.16,0.36,0.56,0.76,0.96,1.16],"format":".2f","labelExpr":"replace(datum.label,'−','-')",
    "grid":false,"tickSize":22,"labelPadding":34,
    "title":"Recharge (m³/s)","titleFontSize":77,"titleAngle":270,"titleX":299,"titleY":914,"titleAlign":"center","titleBaseline":"middle"}}}},
{"data":{"name":"daily"},
 "mark":{"type":"line","color":"#a0a0a0","strokeWidth":10,"strokeDash":[16,33],"strokeCap":"butt","clip":true},
 "encoding":{
  "y":{"field":"s","type":"quantitative","scale":{"domain":[0,0.05],"nice":false},"axis":null}}},
{"data":{"name":"obs"},
 "mark":{"type":"line","color":"black","strokeWidth":10,"strokeCap":"round","strokeJoin":"round","clip":true},
 "encoding":{
  "y":{"field":"q","type":"quantitative","scale":{"domain":[0,0.05],"nice":false},"axis":null},
  "detail":{"field":"g","type":"nominal"}}}
],
"resolve":{"scale":{"y":"independent"}}
}
